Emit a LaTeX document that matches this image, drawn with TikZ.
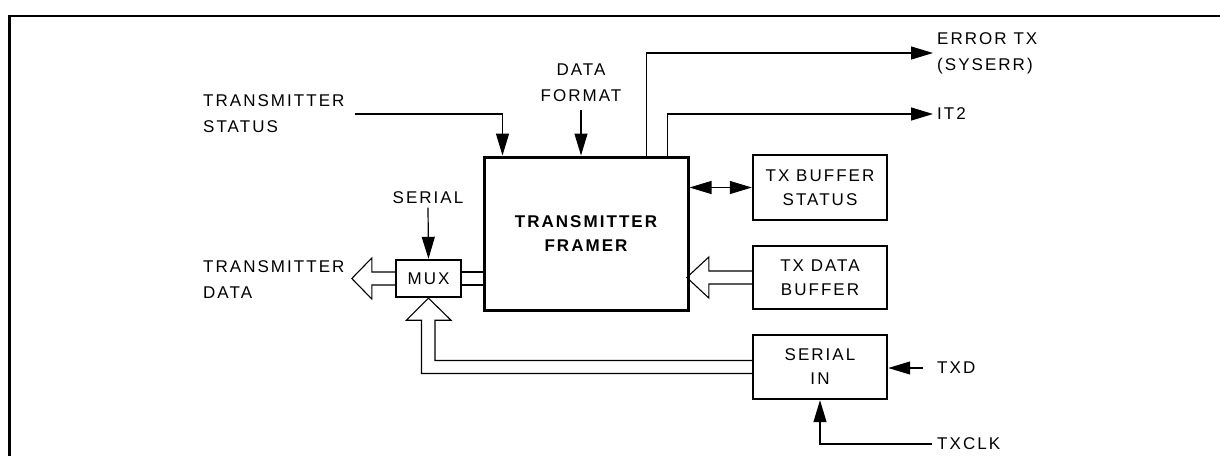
\documentclass[tikz,border=0pt]{standalone}
\usepackage{fontspec}
\setmainfont{Liberation Sans}[LetterSpace=12]
\usetikzlibrary{arrows.meta, positioning}

\begin{document}
\begin{tikzpicture}[x=1pt, y=-1pt]

\tikzset{block/.style = {draw, line width=2.4pt, align=center, font=\fontsize{17}{24}\selectfont}}
\tikzset{label/.style = {inner sep=4pt, font=\fontsize{17}{26}\selectfont}}
\tikzset{edge/.style = {line width=1.2pt, -{Triangle[length=22pt, width=13pt]}}}
\tikzset{bus/.style = {line width=1.1pt, line join=miter}}

\useasboundingbox (0,0) rectangle (1220,455);
%frame
\draw[line width=2.2pt] (9.5,470) -- (9.5,16) -- (1230,16);

%blocks
\node[block, line width=3pt, minimum width=204pt, minimum height=153pt, font=\fontsize{17}{23.5}\selectfont\bfseries] (framer) at (586,233.5) {TRANSMITTER\\FRAMER};
\node[block, minimum width=134pt, minimum height=65pt] (txstat) at (820,187.5) {TX BUFFER\\STATUS};
\node[block, minimum width=134pt, minimum height=63pt] (txdata) at (820,277.5) {TX DATA\\BUFFER};
\node[block, minimum width=134pt, minimum height=64pt] (serin) at (820,367) {SERIAL\\IN};
\node[block, minimum width=65pt, minimum height=37pt, inner sep=0pt] (mux) at (428.5,278.5) {MUX};

%texts
\node[label, anchor=west, align=left] (tstatus) at (199,114) {TRANSMITTER\\STATUS};
\node[label, align=center] (dformat) at (581,83) {DATA\\FORMAT};
\node[label, anchor=west, align=left] (errtx) at (933,53) {ERROR TX\\(SYSERR)};
\node[label, anchor=west] (ittwo) at (933,114) {IT2};
\node[label] (serial) at (428,197.5) {SERIAL};
\node[label, anchor=west, align=left] (tdata) at (199,279.5) {TRANSMITTER\\DATA};
\node[label, anchor=west] (txd) at (933,368) {TXD};
\node[label, anchor=west] (txclk) at (933,444) {TXCLK};

%signals
\draw[edge] ([xshift=6pt]tstatus.east) -| ([xshift=20pt]framer.north west);
\draw[edge] ([yshift=-4pt]dformat.south) -- (dformat.south |- framer.north);
\draw[edge] ([xshift=164pt]framer.north west) |- (errtx.west);
\draw[edge] ([xshift=185pt]framer.north west) |- (ittwo.west);
\draw[edge, {Triangle[length=22pt, width=13pt]}-{Triangle[length=22pt, width=13pt]}] (framer.east |- txstat.west) -- (txstat.west);
\draw[edge] (serial.south) -- (mux.north);
\draw[edge] ([xshift=-10pt]txd.west) -- (serin.east |- txd.west);
\draw[edge] ([xshift=-1pt]txclk.west) -| (serin.south);

%busses
\draw[bus] ([yshift=6.5pt]txdata.west) -- ++(-43,0) -- ++(0,-14) -- ++(-22,20.5) -- ++(22,20.5) -- ++(0,-14) -- ++(43,0);
\draw[bus] ([yshift=6.5pt]mux.east) -- ([yshift=6.5pt]mux.east -| framer.west);
\draw[bus] ([yshift=-6.5pt]mux.east) -- ([yshift=-6.5pt]mux.east -| framer.west);
\draw[bus] ([yshift=6.5pt]mux.west) -- ++(-23,0) -- ++(0,-14) -- ++(-20,20.5) -- ++(20,20.5) -- ++(0,-14) -- ++(23,0);
\draw[bus] ([yshift=6.5pt]serin.west) -| ([xshift=6.5pt, yshift=-22pt]mux.south) -- ++(16,0) -- (mux.south) -- ++(-22,22) -- ++(15,0) |- ([yshift=-6.5pt]serin.west);

\end{tikzpicture}
\end{document}
